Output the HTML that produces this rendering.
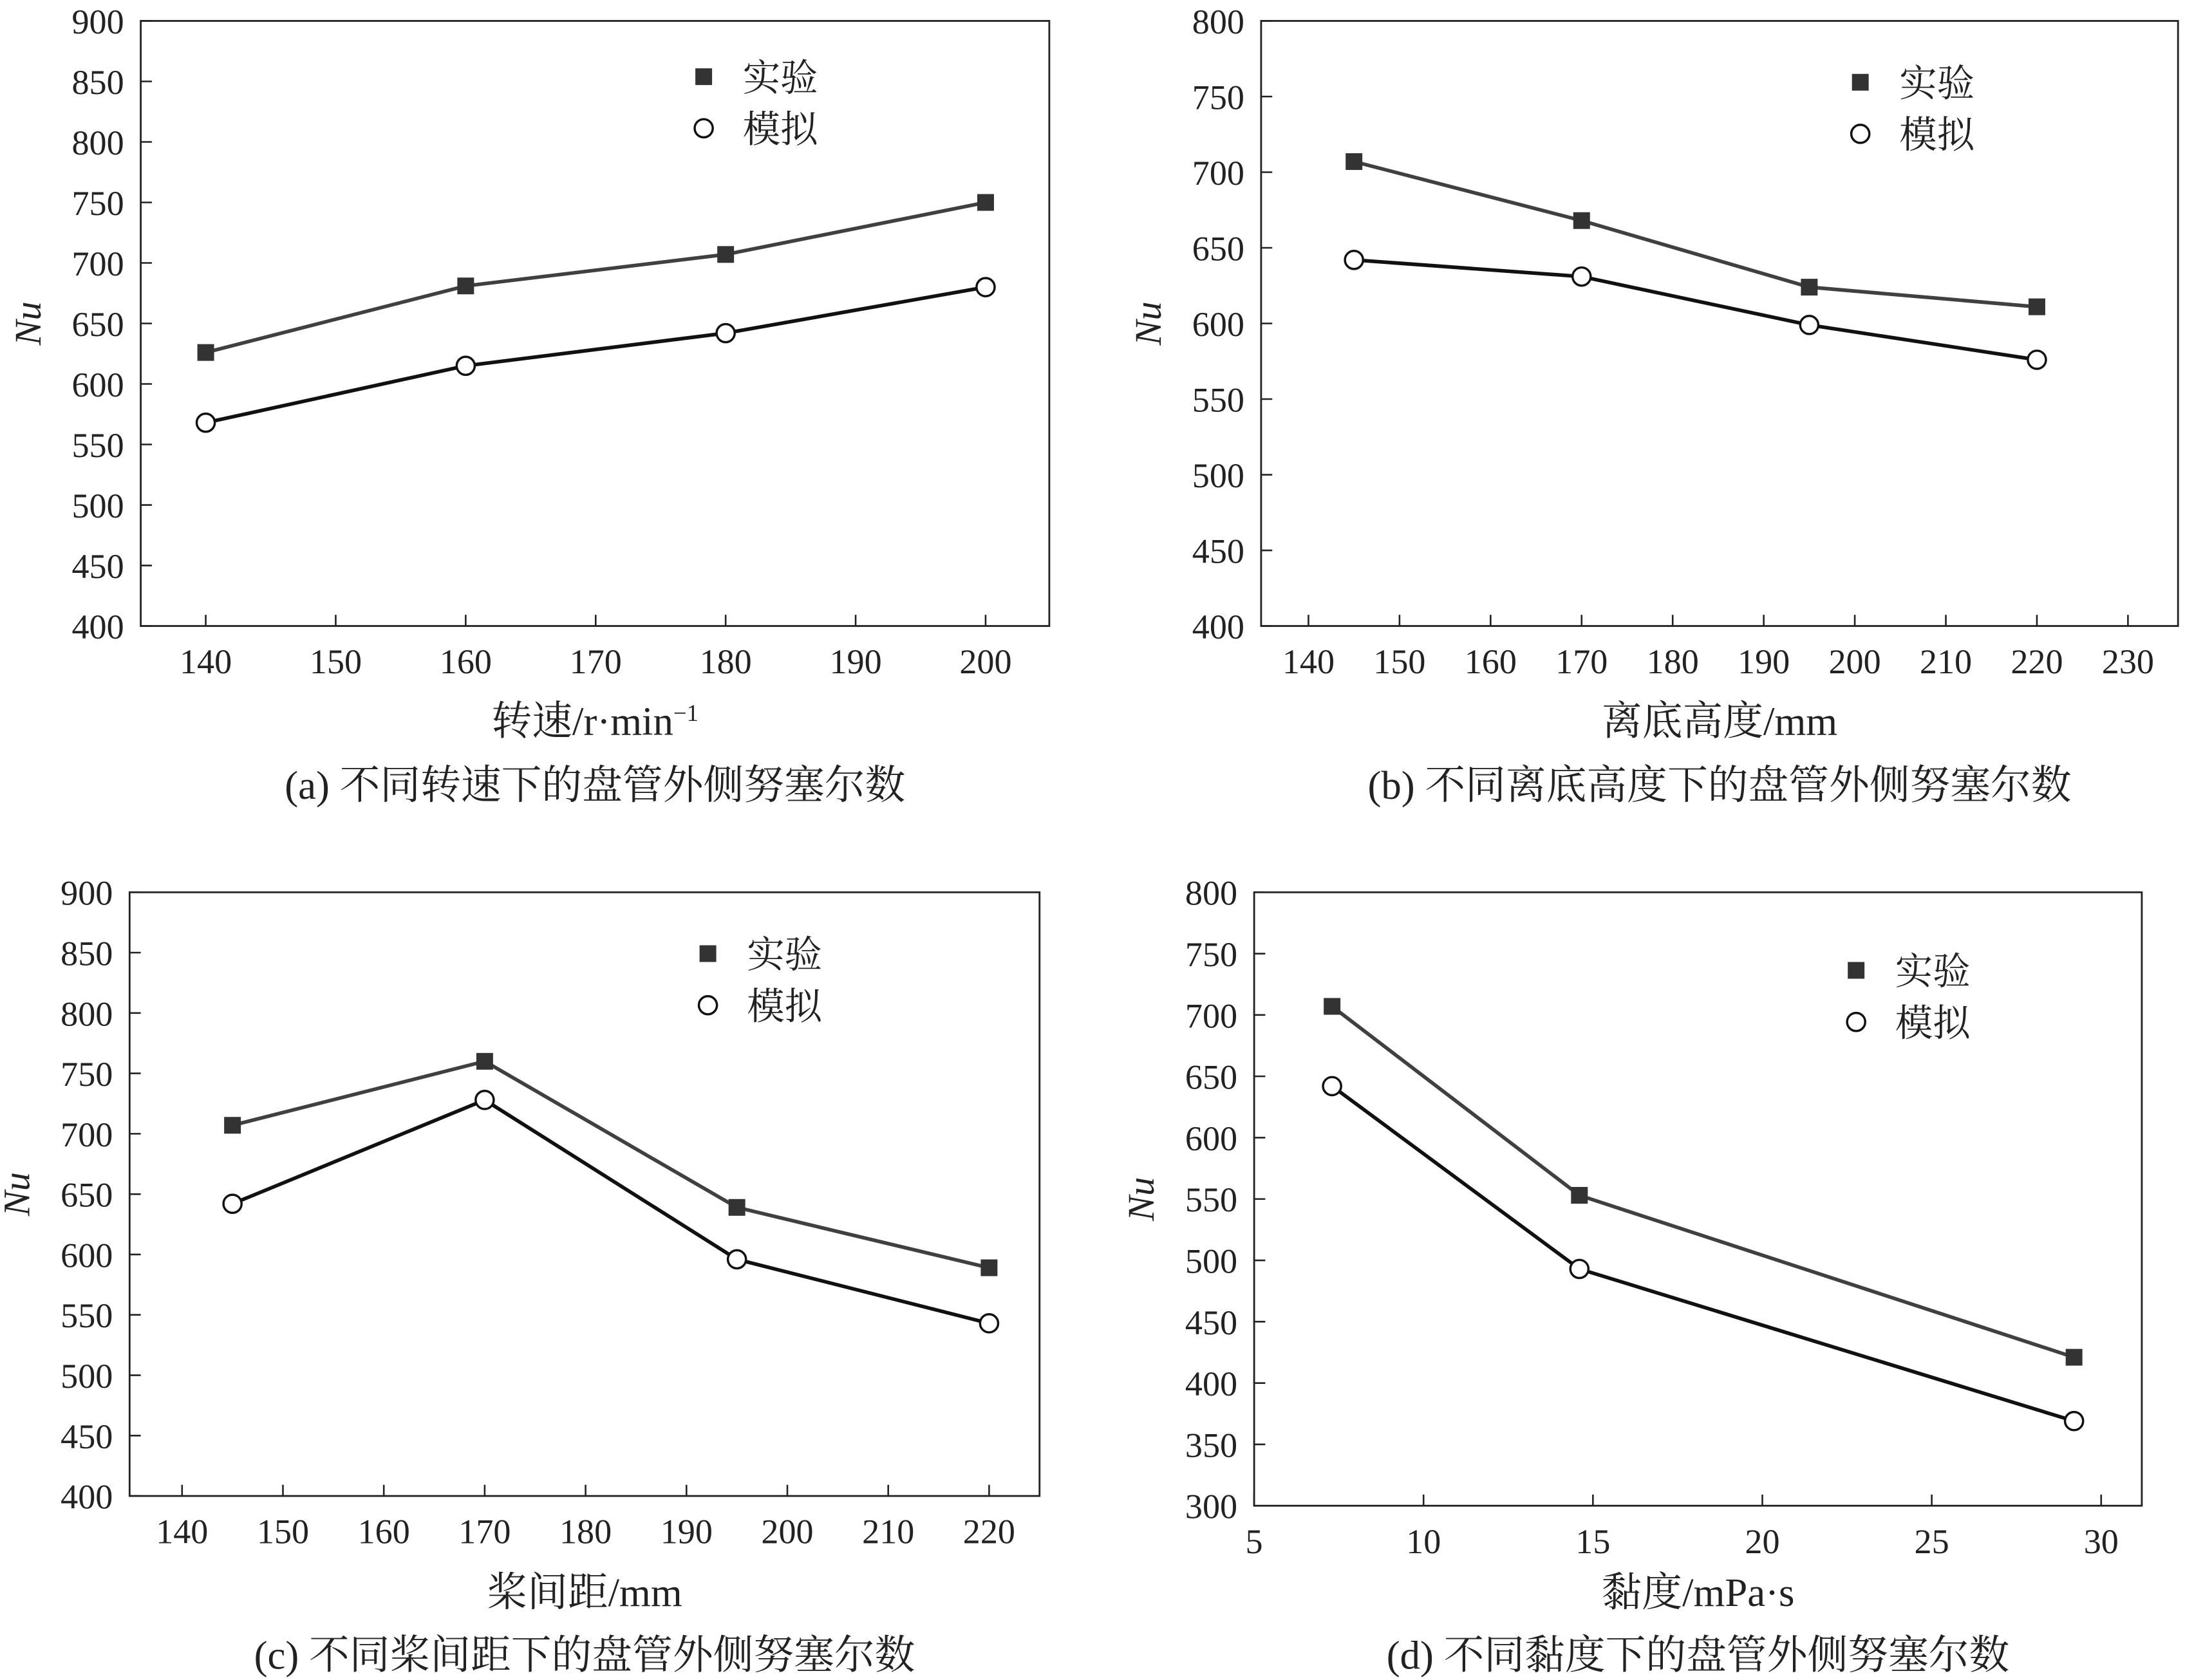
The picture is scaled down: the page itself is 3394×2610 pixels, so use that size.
<!DOCTYPE html>
<html><head><meta charset="utf-8"><style>
html,body{margin:0;padding:0;background:#fff}
svg{display:block}
text{font-family:"Liberation Serif","Noto Serif CJK SC",serif;fill:#222}
</style></head><body>
<svg id="fig" width="3394" height="2610" viewBox="0 0 1568 1205" preserveAspectRatio="none" xmlns="http://www.w3.org/2000/svg"></svg>
<script>
// Panel (a)
const aX = [140,160,180,200];
const aExp = [626,681,707,750];
const aSim = [568,615,642,680];
const aXTicks = [140,150,160,170,180,190,200];
const aYTicks = [400,450,500,550,600,650,700,750,800,850,900];
// Panel (b)
const bX = [145,170,195,220];
const bExp = [707,668,624,611];
const bSim = [642,631,599,576];
const bXTicks = [140,150,160,170,180,190,200,210,220,230];
const bYTicks = [400,450,500,550,600,650,700,750,800];
// Panel (c)
const cX = [145,170,195,220];
const cExp = [707,760,639,589];
const cSim = [642,728,596,543];
const cXTicks = [140,150,160,170,180,190,200,210,220];
const cYTicks = [400,450,500,550,600,650,700,750,800,850,900];
// Panel (d)
const dX = [7.3,14.6,29.2];
const dExp = [707,553,421];
const dSim = [642,493,369];
const dXTicks = [5,10,15,20,25,30];
const dYTicks = [300,350,400,450,500,550,600,650,700,750,800];

const NS="http://www.w3.org/2000/svg";
const svg=document.getElementById('fig');
function mk(tag,attrs,parent,txt){const e=document.createElementNS(NS,tag);for(const k in attrs)e.setAttribute(k,attrs[k]);if(txt!==undefined)e.textContent=txt;(parent||svg).appendChild(e);return e;}

function panel(id,box,xr,yr,xs,exp,sim,xt,yt,xlabel,caption,leg,xly,capy){
  const g=mk('g',{});
  
  
  const [L,T,R,B]=box;
  const X=v=>L+(v-xr[0])/(xr[1]-xr[0])*(R-L);
  const Y=v=>B-(v-yr[0])/(yr[1]-yr[0])*(B-T);
  const r=mk('rect',{x:L,y:T,width:R-L,height:B-T,fill:'none',stroke:'#222','stroke-width':1.3},g);
  
  
  xt.forEach(v=>{
    mk('line',{x1:X(v),x2:X(v),y1:B,y2:B-8,stroke:'#222','stroke-width':1.2},g);
    const t=mk('text',{x:X(v),y:B+34,'font-size':25,'text-anchor':'middle'},g,v);
    
    
  });
  yt.forEach(v=>{
    mk('line',{x1:L,x2:L+8,y1:Y(v),y2:Y(v),stroke:'#222','stroke-width':1.2},g);
    const t=mk('text',{x:L-12,y:Y(v)+9,'font-size':25,'text-anchor':'end'},g,v);
    
    
  });
  const yl=mk('text',{x:0,y:0,'font-size':27,'font-style':'italic','text-anchor':'middle',transform:`translate(${L-72},${(T+B)/2}) rotate(-90)`},g,'Nu');
  
  
  const xl=mk('text',{x:(L+R)/2,y:xly,'font-size':29,'text-anchor':'middle'},g);
  xl.innerHTML=xlabel;
  
  
  const cp=mk('text',{x:(L+R)/2,y:capy,'font-size':29,'text-anchor':'middle'},g,caption);
  
  
  const pe=mk('polyline',{points:xs.map((v,i)=>X(v)+','+Y(exp[i])).join(' '),fill:'none',stroke:'#404040','stroke-width':2.6},g);
  
  
  const ps=mk('polyline',{points:xs.map((v,i)=>X(v)+','+Y(sim[i])).join(' '),fill:'none',stroke:'#111','stroke-width':2.6},g);
  
  
  xs.forEach((v,i)=>{
    const s=mk('rect',{x:X(v)-6,y:Y(exp[i])-6,width:12,height:12,fill:'#333'},g);
    
    
    const c=mk('circle',{cx:X(v),cy:Y(sim[i]),r:6.5,fill:'#fff',stroke:'#111','stroke-width':1.6},g);
    
    
  });
  const [lx,ly]=leg;
  const ls=mk('rect',{x:lx-6,y:ly-6,width:12,height:12,fill:'#333'},g);
  
  
  const lt1=mk('text',{x:lx+28,y:ly+10,'font-size':27},g,'实验');
  
  
  const lc=mk('circle',{cx:lx,cy:ly+37,r:6.5,fill:'#fff',stroke:'#111','stroke-width':1.6},g);
  
  
  const lt2=mk('text',{x:lx+28,y:ly+47,'font-size':27},g,'模拟');
  
  
}
panel('a',[101,15,753,449],[135,204.9],[400,900],aX,aExp,aSim,aXTicks,aYTicks,'转速/r·min<tspan dy="-10" font-size="17">−1</tspan>','(a) 不同转速下的盘管外侧努塞尔数',[505,55],527,573);
panel('b',[905,15,1563,449],[134.8,235.5],[400,800],bX,bExp,bSim,bXTicks,bYTicks,'离底高度/mm','(b) 不同离底高度下的盘管外侧努塞尔数',[1335,59],527,573);
panel('c',[93,640,746,1073],[134.8,225],[400,900],cX,cExp,cSim,cXTicks,cYTicks,'桨间距/mm','(c) 不同桨间距下的盘管外侧努塞尔数',[508,684],1152,1197);
panel('d',[900,640,1537,1080],[5,31.2],[300,800],dX,dExp,dSim,dXTicks,dYTicks,'黏度/mPa·s','(d) 不同黏度下的盘管外侧努塞尔数',[1332,696],1152,1197);
</script>
</body></html>
